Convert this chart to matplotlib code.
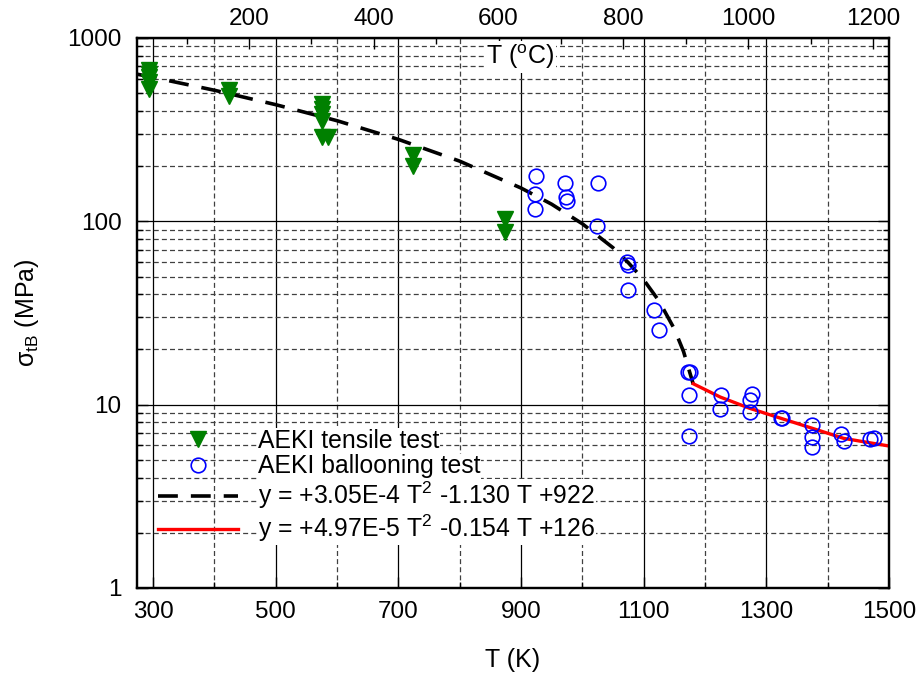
import matplotlib
matplotlib.use("Agg")
import matplotlib.pyplot as plt
from matplotlib.ticker import FixedLocator, FuncFormatter, NullFormatter, LogLocator

plt.rcParams['font.family'] = ['Liberation Sans', 'DejaVu Sans']
plt.rcParams['mathtext.fontset'] = 'custom'
plt.rcParams['mathtext.rm'] = 'Liberation Sans'
plt.rcParams['mathtext.it'] = 'Liberation Sans:italic'
plt.rcParams['mathtext.default'] = 'regular'

# AEKI tensile test (T in K, strength in MPa)
tensile_T = [294, 294, 294, 294, 294, 424, 424, 575, 575, 575, 575, 575, 585, 724, 724, 874, 874]
tensile_s = [670, 640, 610, 575, 530, 520, 485, 439, 410, 385, 352, 288, 288, 230, 200, 103, 88]

# AEKI ballooning test
balloon_T = [924, 923, 923, 972, 973, 975, 1025, 1024, 1073, 1074, 1075, 1117, 1125,
             1173, 1176, 1174, 1174, 1226, 1225, 1277, 1273, 1273, 1324, 1326,
             1375, 1375, 1375, 1421, 1426, 1469, 1476]
balloon_s = [177, 141, 117, 161, 136, 129, 161, 94, 60, 58, 42, 33, 25.5,
             15.1, 15.1, 11.3, 6.75, 11.3, 9.5, 11.5, 10.6, 9.1, 8.45, 8.5,
             7.74, 6.69, 5.85, 6.92, 6.35, 6.49, 6.6]

# fitted curves
fit1_T = [274, 300, 400, 500, 600, 700, 800, 900, 950, 1000, 1050, 1075, 1100,
          1125, 1150, 1165, 1181]
fit1_s = [635, 610, 519, 433, 354, 280, 213, 152, 124, 97, 71.8, 59.5, 48.0,
          36.8, 25.9, 19.5, 12.9]
fit2_T = [1181, 1225, 1273, 1325, 1375, 1426, 1500]
fit2_s = [13.0, 11.0, 9.55, 8.4, 7.43, 6.55, 5.95]

fit1_label = 'y = +3.05E-4 T$^2$ -1.130 T +922'
fit2_label = 'y = +4.97E-5 T$^2$ -0.154 T +126'

x_major = [300, 500, 700, 900, 1100, 1300, 1500]
x_minor = [400, 600, 800, 1000, 1200, 1400]
x2_major = [200, 400, 600, 800, 1000, 1200]
x2_minor = [100, 300, 500, 700, 900, 1100]

FS = 17.5
W, H = 919, 677
fig = plt.figure(figsize=(W / 100, H / 100), dpi=100)
ax = fig.add_axes([137 / W, 1 - 588 / H, (889 - 137) / W, (588 - 38) / H])

h1, = ax.plot(tensile_T, tensile_s, 'v', color='#008000', ms=11, ls='none',
              label='AEKI tensile test', zorder=4)
h2, = ax.plot(balloon_T, balloon_s, 'o', mfc='none', mec='#0000ff', mew=1.2, ms=10.5,
              ls='none', label='AEKI ballooning test', zorder=4)
h3, = ax.plot(fit1_T, fit1_s, color='black', lw=2.6, dashes=(5.5, 3.6), label=fit1_label, zorder=3)
h4, = ax.plot(fit2_T, fit2_s, color='#ff0000', lw=2.4, label=fit2_label, zorder=3)

ax.set_yscale('log')
ax.set_xlim(274, 1500)
ax.set_ylim(1, 1000)

ax.xaxis.set_major_locator(FixedLocator(x_major))
ax.xaxis.set_minor_locator(FixedLocator(x_minor))
ax.yaxis.set_major_locator(FixedLocator([1, 10, 100, 1000]))
ax.yaxis.set_minor_locator(LogLocator(subs=range(2, 10)))
ax.yaxis.set_major_formatter(FuncFormatter(lambda v, p: '%g' % v))
ax.yaxis.set_minor_formatter(NullFormatter())

ax.grid(which='major', color='black', lw=0.9, ls='-', zorder=0)
ax.grid(which='minor', color='0.25', lw=0.9, ls=(0, (4, 2.5)), zorder=0)
ax.set_axisbelow(True)

ax.tick_params(which='both', direction='in', labelsize=FS, right=True, top=False)
ax.tick_params(which='major', length=8, width=1)
ax.tick_params(which='minor', length=4, width=1)
ax.tick_params(axis='x', pad=9)
ax.tick_params(axis='y', pad=11)
for s in ax.spines.values():
    s.set_linewidth(1.6)

ax.set_xlabel('T (K)', fontsize=18, labelpad=18)
ax.set_ylabel('\u03c3$_{tB}$ (MPa)', fontsize=18, labelpad=19)

ax2 = ax.twiny()
ax2.set_xlim(20.5, 1225.6)
ax2.xaxis.set_major_locator(FixedLocator(x2_major))
ax2.xaxis.set_minor_locator(FixedLocator(x2_minor))
ax2.tick_params(which='both', direction='in', labelsize=FS, pad=6)
ax2.tick_params(which='major', length=8, width=1)
ax2.tick_params(which='minor', length=4, width=1)
for s in ax2.spines.values():
    s.set_linewidth(1.6)

fig.text(520 / W, 1 - 57 / H, 'T ($^{o}$C)', fontsize=18, ha='center', va='center',
         bbox=dict(facecolor='white', edgecolor='none', pad=1))

leg = ax.legend(handles=[h1, h2, h3, h4], loc='upper left',
                bbox_to_anchor=(158 / W, 1 - 429 / H), bbox_transform=fig.transFigure,
                frameon=False, fontsize=17.8, handlelength=3.25, handletextpad=0.8,
                labelspacing=0.06, borderpad=0, borderaxespad=0)
for t in leg.get_texts():
    t.set_bbox(dict(facecolor='white', edgecolor='none', pad=0.5))

fig.savefig('out.png', dpi=100)
